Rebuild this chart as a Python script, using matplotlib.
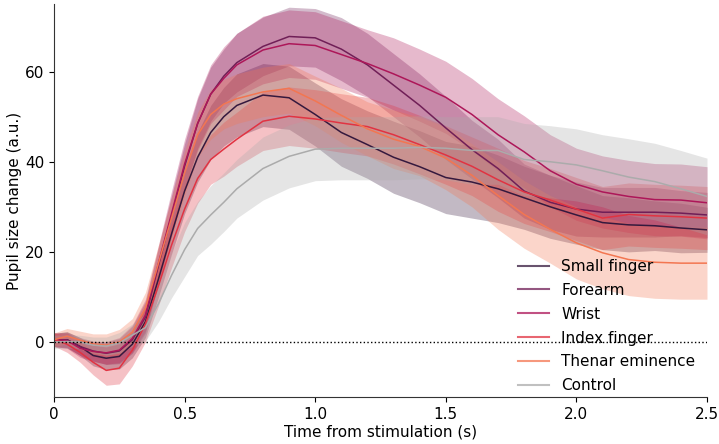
import numpy as np
import matplotlib
matplotlib.use("Agg")
import matplotlib.pyplot as plt
from matplotlib.lines import Line2D

# time axis (s)
t = [0, .05, .1, .15, .2, .25, .3, .35, .4, .45, .5, .55, .6, .65, .7,
     .8, .9, 1.0, 1.1, 1.2, 1.3, 1.4, 1.5, 1.6, 1.7, 1.8, 1.9, 2.0,
     2.1, 2.2, 2.3, 2.4, 2.5]

# mean pupil response per stimulation site
small_finger = [0.4, 0.5, -1.0, -3.0, -3.6, -3.2, -0.5, 4.5, 14.0, 24.0, 33.5, 41.0, 46.5, 50.0, 52.5,
                54.8, 54.2, 50.5, 46.5, 43.8, 41.0, 38.9, 36.5, 35.5, 34.0, 32.0, 30.0, 28.2,
                26.5, 26.0, 25.8, 25.3, 24.9]
forearm = [0.5, 0.5, -1.0, -2.0, -2.5, -2.0, 0.5, 5.5, 17.0, 28.0, 39.0, 48.5, 55.0, 59.0, 62.0,
           65.6, 67.8, 67.5, 65.0, 61.5, 57.0, 52.5, 47.5, 42.7, 38.5, 33.5, 31.0, 29.5,
           28.8, 28.8, 28.8, 28.6, 28.2]
wrist = [0.5, 0.3, -1.4, -2.1, -2.4, -1.8, 0.8, 6.0, 17.5, 28.5, 39.5, 48.5, 55.0, 58.5, 61.5,
         64.8, 66.2, 65.8, 63.8, 61.8, 59.5, 57.0, 54.3, 50.5, 46.0, 42.2, 38.0, 35.0,
         33.3, 32.3, 31.6, 31.5, 30.9]
index_finger = [0.6, -0.5, -2.3, -4.5, -6.3, -5.8, -1.8, 4.0, 12.5, 21.5, 29.5, 36.3, 40.5, 42.8, 45.0,
                49.0, 50.1, 49.5, 48.6, 47.8, 46.0, 43.8, 41.5, 39.0, 36.0, 33.3, 31.5, 29.5,
                27.5, 28.3, 28.0, 27.8, 27.5]
thenar = [0.5, 1.3, 0.4, -0.4, -0.7, 0.0, 2.2, 7.5, 17.5, 27.5, 37.5, 46.0, 50.5, 52.8, 54.0,
          55.5, 56.3, 53.5, 50.3, 47.3, 45.0, 43.4, 40.8, 37.0, 32.5, 28.3, 25.0, 22.0,
          19.8, 18.3, 17.7, 17.5, 17.5]
control = [0.0, 0.1, 0.0, -0.7, -0.9, -0.2, 1.5, 3.2, 8.5, 14.8, 20.5, 25.2, 28.2, 31.0, 34.0,
           38.5, 41.2, 42.8, 43.0, 43.0, 43.0, 43.2, 43.0, 42.5, 42.5, 40.5, 40.0, 39.3,
           38.0, 36.6, 35.6, 34.0, 32.3]

# half-width of the confidence band
small_finger_ci = [1.5, 1.8, 2.0, 2.3, 2.5, 2.8, 3.0, 3.5, 4.0, 4.5, 5.0, 5.5, 6.0, 6.5, 7.0,
                   7.0, 7.0, 7.0, 7.5, 7.5, 8.0, 8.0, 8.0, 8.0, 7.5, 7.0, 7.0, 6.5,
                   6.0, 6.0, 5.5, 5.5, 5.0]
forearm_ci = [1.5, 1.7, 2.0, 2.2, 2.5, 2.8, 3.0, 3.5, 4.0, 4.5, 5.0, 5.5, 6.0, 6.0, 6.5,
              6.5, 6.5, 6.5, 7.0, 7.0, 7.0, 7.0, 7.0, 6.5, 6.5, 6.0, 6.0, 6.0,
              5.5, 5.5, 5.5, 5.0, 5.0]
wrist_ci = [1.5, 1.7, 2.0, 2.2, 2.5, 2.8, 3.0, 3.5, 4.0, 5.0, 5.5, 6.0, 6.5, 7.0, 7.0,
            7.5, 7.5, 7.5, 7.5, 7.5, 8.0, 8.0, 8.0, 8.0, 8.0, 8.0, 8.0, 8.0,
            8.0, 8.0, 8.0, 8.0, 8.0]
index_finger_ci = [1.5, 1.8, 2.2, 2.8, 3.3, 3.5, 3.5, 4.0, 4.5, 5.0, 5.0, 5.5, 5.5, 6.0, 6.0,
                   6.5, 6.5, 6.5, 6.5, 6.5, 6.5, 6.5, 6.5, 6.5, 7.0, 7.0, 7.0, 7.0,
                   7.0, 7.0, 7.0, 7.0, 7.0]
thenar_ci = [1.5, 1.7, 2.0, 2.2, 2.5, 2.8, 3.0, 3.5, 4.0, 4.5, 5.0, 5.0, 5.5, 5.5, 5.5,
             5.5, 5.5, 5.5, 6.0, 6.0, 6.5, 6.5, 7.0, 7.0, 7.5, 7.5, 7.5, 8.0,
             8.0, 8.0, 8.0, 8.0, 8.0]
control_ci = [1.5, 1.5, 1.5, 1.8, 2.0, 2.3, 2.5, 3.0, 4.0, 5.0, 6.0, 6.0, 6.5, 6.5, 6.5,
              7.0, 7.0, 7.0, 7.0, 7.0, 7.0, 7.0, 7.0, 7.5, 7.5, 8.0, 8.0, 8.0,
              8.0, 8.5, 8.5, 8.5, 8.5]

labels = ["Small finger", "Forearm", "Wrist", "Index finger", "Thenar eminence", "Control"]
colors = ["#35193e", "#701f57", "#ad1759", "#e13342", "#f37651", "#ababab"]
means = [small_finger, forearm, wrist, index_finger, thenar, control]
cis = [small_finger_ci, forearm_ci, wrist_ci, index_finger_ci, thenar_ci, control_ci]

plt.rcParams['font.size'] = 11

fig = plt.figure(figsize=(7.19, 4.44), dpi=100)
ax = fig.add_axes([0.0751, 0.1059, 0.9082, 0.885])

x = np.array(t)
for m, c, col in zip(means, cis, colors):
    m = np.array(m)
    c = np.array(c)
    ax.fill_between(x, m - c, m + c, color=col, alpha=0.3, linewidth=0)
    ax.plot(x, m, color=col, linewidth=1.1)

ax.axhline(0, color="black", linestyle=":", linewidth=1)

ax.set_xlim(0, 2.5)
ax.set_ylim(-12.2, 75)
ax.set_xticks([0, 0.5, 1.0, 1.5, 2.0, 2.5])
ax.set_xticklabels(["0", "0.5", "1.0", "1.5", "2.0", "2.5"])
ax.set_yticks([0, 20, 40, 60])
ax.set_xlabel("Time from stimulation (s)", labelpad=2)
ax.set_ylabel("Pupil size change (a.u.)", labelpad=2)

ax.spines['top'].set_visible(False)
ax.spines['right'].set_visible(False)
for s in ['left', 'bottom']:
    ax.spines[s].set_color('#333333')

handles = [Line2D([], [], color=col, linewidth=1.5, alpha=0.75) for col in colors]
ax.legend(handles, labels, loc="lower right", frameon=False, labelspacing=0.58,
          borderaxespad=0, bbox_to_anchor=(0.9914, -0.006))

fig.savefig("out.png", dpi=100)
